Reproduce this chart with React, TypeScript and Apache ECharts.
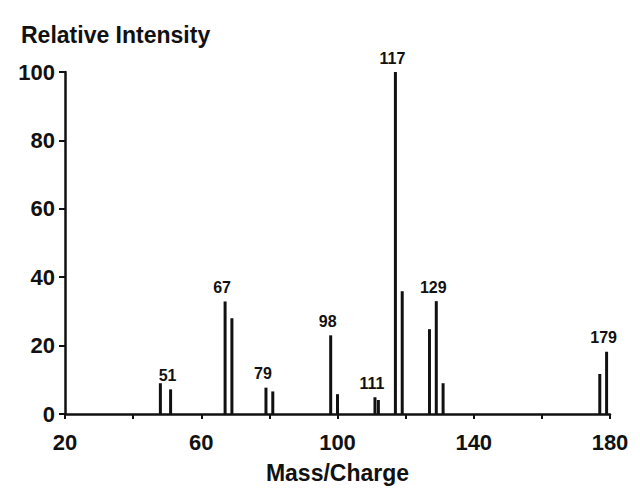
import React, { useEffect, useRef } from "react";
import * as echarts from "echarts";

const masses = [48, 51, 67, 69, 79, 81, 98, 100, 111, 112, 117, 119, 127, 129, 131, 177, 179];
const intensities = [9.0, 7.2, 32.9, 28.0, 7.7, 6.6, 23.0, 5.8, 4.9, 4.1, 100, 35.9, 24.8, 33.0, 9.0, 11.7, 18.2];
const labeledPeaks = [51, 67, 79, 98, 111, 117, 129, 179];
const xTickLabels = [20, 60, 100, 140, 180];

const FONT = "'Liberation Sans', Arial, Helvetica, sans-serif";

export default function App() {
  const ref = useRef<HTMLDivElement>(null);
  useEffect(() => {
    document.body.style.margin = "0";
    if (!ref.current) return;
    const chart = echarts.init(ref.current, undefined, { renderer: "svg" });
    const data = masses.map((m, i) => {
      const show = labeledPeaks.includes(m);
      return {
        value: [m, intensities[i]],
        label: {
          show,
          position: "top",
          distance: 6,
          offset: [-3, 0],
          formatter: String(m),
          color: "#111",
          fontFamily: FONT,
          fontSize: 16,
          fontWeight: "bold",
        },
      };
    });
    chart.setOption({
      animation: false,
      backgroundColor: "#fff",
      title: {
        text: "Relative Intensity",
        left: 16,
        top: 18,
        textStyle: { fontFamily: FONT, fontSize: 23, fontWeight: "bold", color: "#111" },
      },
      grid: { left: 65, right: 30, top: 72, bottom: 74, containLabel: false },
      xAxis: {
        type: "value",
        min: 20,
        max: 180,
        interval: 20,
        name: "Mass/Charge",
        nameLocation: "middle",
        nameGap: 47,
        nameTextStyle: { fontFamily: FONT, fontSize: 23, fontWeight: "bold", color: "#111" },
        axisLine: { show: true, onZero: false, lineStyle: { color: "#111", width: 2.5 } },
        axisTick: { show: true, inside: false, length: 5, lineStyle: { color: "#111", width: 2 } },
        splitLine: { show: false },
        axisLabel: {
          margin: 17,
          fontFamily: FONT,
          fontSize: 22,
          fontWeight: "bold",
          color: "#111",
          formatter: (v: number) => (xTickLabels.includes(v) ? String(v) : ""),
        },
      },
      yAxis: {
        type: "value",
        min: 0,
        max: 100,
        interval: 20,
        axisLine: { show: true, lineStyle: { color: "#111", width: 2.5 } },
        axisTick: { show: true, inside: false, length: 6, lineStyle: { color: "#111", width: 2 } },
        splitLine: { show: false },
        axisLabel: {
          margin: 10,
          fontFamily: FONT,
          fontSize: 22,
          fontWeight: "bold",
          color: "#111",
        },
      },
      series: [
        {
          type: "bar",
          barWidth: 3,
          itemStyle: { color: "#111" },
          data,
        },
      ],
    });
    return () => chart.dispose();
  }, []);
  return <div ref={ref} style={{ width: 640, height: 489 }} />;
}
